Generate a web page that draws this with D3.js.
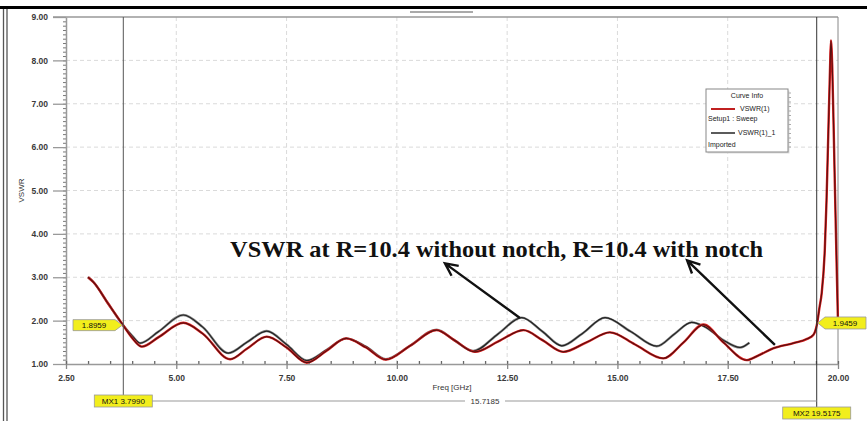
<!DOCTYPE html>
<html lang="en">
<head>
<meta charset="UTF-8">
<title>VSWR</title>
<script src="https://cdn.jsdelivr.net/npm/d3@7"></script>
<style>
    body { margin: 0; background: #fff; }
    svg { display: block; }
    .tick text { font: bold 8.5px "Liberation Sans", Arial, sans-serif; fill: #3a3a3a; }
    .lbl { font: 8px "Liberation Sans", Arial, sans-serif; fill: #333; }
</style>
</head>
<body>
<script>
    // red = "VSWR(1) Setup1 : Sweep" (with notch), black = "VSWR(1)_1 Imported" (without notch)
    const freqRed = [3.0, 3.12, 3.45, 3.79, 4.0, 4.22, 4.6, 5.16, 5.6, 6.22, 6.6, 7.05, 7.5, 7.96, 8.4, 8.85, 9.3, 9.75,
        10.3, 10.9, 11.3, 11.77, 12.3, 12.87, 13.3, 13.77, 14.3, 14.83, 15.4, 16.04, 16.5, 16.95, 17.4, 17.93,
        18.2, 18.53, 18.99, 19.3, 19.44, 19.52, 19.58, 19.63, 19.7, 19.74, 19.78, 19.82, 19.84, 19.87, 19.92, 19.97, 20.0];
    const vswrRed = [3.0, 2.89, 2.4, 1.90, 1.6, 1.40, 1.62, 1.95, 1.7, 1.11, 1.35, 1.63, 1.38, 1.03, 1.3, 1.59, 1.38, 1.10,
        1.42, 1.78, 1.55, 1.28, 1.52, 1.78, 1.55, 1.28, 1.5, 1.73, 1.45, 1.13, 1.5, 1.91, 1.5, 1.09,
        1.2, 1.36, 1.48, 1.58, 1.67, 1.90, 2.3, 2.63, 3.62, 4.77, 6.31, 7.84, 8.46, 7.84, 5.54, 3.24, 1.95];
    const freqBlack = [3.0, 3.12, 3.45, 3.79, 4.0, 4.18, 4.6, 5.16, 5.6, 6.18, 6.6, 7.05, 7.5, 7.96, 8.4, 8.85, 9.3, 9.75,
        10.3, 10.9, 11.3, 11.73, 12.3, 12.83, 13.3, 13.74, 14.2, 14.72, 15.3, 15.89, 16.3, 16.68, 17.0, 17.4, 17.78, 17.99];
    const vswrBlack = [3.0, 2.89, 2.4, 1.90, 1.65, 1.48, 1.75, 2.13, 1.85, 1.25, 1.5, 1.76, 1.45, 1.08, 1.32, 1.59, 1.4, 1.11,
        1.42, 1.79, 1.55, 1.30, 1.7, 2.07, 1.75, 1.42, 1.7, 2.07, 1.75, 1.41, 1.7, 1.96, 1.85, 1.55, 1.38, 1.49];

    const xTicks = [2.5, 5, 7.5, 10, 12.5, 15, 17.5, 20];
    const yTicks = [1, 2, 3, 4, 5, 6, 7, 8, 9];

    const mx1 = 3.7990, mx1Val = 1.8959;
    const mx2 = 19.5175, mx2Val = 1.9459;

    const W = 867, H = 426;
    const svg = d3.select("body").append("svg").attr("width", W).attr("height", H);

    const x = d3.scaleLinear().domain([2.5, 20]).range([66, 838]);
    const y = d3.scaleLinear().domain([1, 9]).range([364, 17]);

    // outer frame of the screenshot
    svg.append("line").attr("x1", 0).attr("x2", W).attr("y1", 7.5).attr("y2", 7.5)
        .attr("stroke", "#000").attr("stroke-width", 3);
    svg.append("line").attr("x1", 410).attr("x2", 473).attr("y1", 12).attr("y2", 12)
        .attr("stroke", "#aaa").attr("stroke-width", 2);
    [3.5, 7].forEach(px => {
        svg.append("line").attr("x1", px).attr("x2", px).attr("y1", 9).attr("y2", 421)
            .attr("stroke", "#555").attr("stroke-width", 1.3);
    });

    // grid
    const grid = svg.append("g").attr("stroke", "#dadada").attr("stroke-dasharray", "4,3");
    grid.selectAll(".gx").data(xTicks.slice(1, -1)).enter().append("line")
        .attr("x1", d => x(d)).attr("x2", d => x(d)).attr("y1", y(9)).attr("y2", y(1));
    grid.selectAll(".gy").data(yTicks.slice(1, -1)).enter().append("line")
        .attr("x1", x(2.5)).attr("x2", x(20)).attr("y1", d => y(d)).attr("y2", d => y(d));

    // plot frame (top and right)
    svg.append("line").attr("x1", x(2.5) - 13).attr("x2", x(20)).attr("y1", y(9)).attr("y2", y(9))
        .attr("stroke", "#999").attr("stroke-width", 1.5);
    svg.append("line").attr("x1", x(20)).attr("x2", x(20)).attr("y1", y(9)).attr("y2", y(1))
        .attr("stroke", "#888").attr("stroke-width", 1);

    // y axis
    const yMinor = d3.range(10, 91).map(d => d / 10);
    svg.append("g").attr("transform", `translate(${x(2.5)},0)`)
        .call(d3.axisLeft(y).tickValues(yMinor).tickSize(3).tickFormat(""))
        .call(g => g.select(".domain").remove())
        .call(g => g.selectAll("line").attr("stroke", "#777"));
    svg.append("g").attr("transform", `translate(${x(2.5)},0)`)
        .call(d3.axisLeft(y).tickValues(yTicks).tickSize(13).tickPadding(5).tickSizeOuter(0).tickFormat(d3.format(".2f")))
        .call(g => g.select(".domain").attr("stroke", "#999").attr("stroke-width", 1.5))
        .call(g => g.selectAll("line").attr("stroke", "#999").attr("stroke-width", 1.3));

    // x axis
    const xMinor = d3.range(5, 41).map(d => d / 2);
    svg.append("g").attr("transform", `translate(0,${y(1)})`)
        .call(d3.axisBottom(x).tickValues(xMinor).tickSize(-3).tickFormat(""))
        .call(g => g.select(".domain").remove())
        .call(g => g.selectAll("line").attr("stroke", "#666").attr("stroke-width", 1.3));
    svg.append("g").attr("transform", `translate(0,${y(1)})`)
        .call(d3.axisBottom(x).tickValues(xTicks).tickSize(5).tickPadding(6).tickSizeOuter(0).tickFormat(d3.format(".2f")))
        .call(g => g.select(".domain").attr("stroke", "#999").attr("stroke-width", 1.5))
        .call(g => g.selectAll("line").attr("stroke", "#888").attr("stroke-width", 1.3));

    svg.append("text").attr("class", "lbl").attr("x", 452).attr("y", 390).attr("text-anchor", "middle")
        .text("Freq [GHz]");
    svg.append("text").attr("class", "lbl")
        .attr("transform", `translate(24,${y(5)}) rotate(-90)`).attr("text-anchor", "middle").text("VSWR");

    // curves
    const line = d3.line().x(d => x(d[0])).y(d => y(d[1])).curve(d3.curveMonotoneX);
    const redPts = freqRed.map((f, i) => [f, vswrRed[i]]);
    const blackPts = freqBlack.map((f, i) => [f, vswrBlack[i]]);

    svg.append("path").attr("d", line(blackPts)).attr("fill", "none")
        .attr("stroke", "#888").attr("stroke-width", 2.4);
    svg.append("path").attr("d", line(blackPts)).attr("fill", "none")
        .attr("stroke", "#222").attr("stroke-width", 1.2);
    svg.append("path").attr("d", line(redPts)).attr("fill", "none")
        .attr("stroke", "#e02020").attr("stroke-width", 2.4);
    svg.append("path").attr("d", line(redPts)).attr("fill", "none")
        .attr("stroke", "#5a1010").attr("stroke-width", 1.2);

    // markers
    const mk = svg.append("g");
    mk.append("line").attr("x1", x(mx1)).attr("x2", x(mx1)).attr("y1", y(9)).attr("y2", 395)
        .attr("stroke", "#555").attr("stroke-width", 1);
    mk.append("line").attr("x1", x(mx2)).attr("x2", x(mx2)).attr("y1", y(9)).attr("y2", 407)
        .attr("stroke", "#333").attr("stroke-width", 1);
    mk.append("line").attr("x1", x(mx1)).attr("x2", x(mx2)).attr("y1", 401).attr("y2", 401)
        .attr("stroke", "#999").attr("stroke-width", 1);
    mk.append("rect").attr("x", 465).attr("y", 396).attr("width", 40).attr("height", 10).attr("fill", "#fff");
    mk.append("text").attr("class", "lbl").attr("x", 485).attr("y", 404).attr("text-anchor", "middle")
        .text((mx2 - mx1).toFixed(4));

    function tag(x0, y0, w, h, text) {
        mk.append("rect").attr("x", x0).attr("y", y0).attr("width", w).attr("height", h)
            .attr("fill", "#f2ee1c").attr("stroke", "#999").attr("stroke-width", 0.8);
        mk.append("text").attr("class", "lbl").attr("x", x0 + w / 2).attr("y", y0 + h - 3)
            .attr("text-anchor", "middle").style("fill", "#111").text(text);
    }
    tag(x(mx1) - 29, 395, 58, 12, "MX1  " + mx1.toFixed(4));
    tag(x(mx2) - 34, 407, 68, 12, "MX2  " + mx2.toFixed(4));

    // value tags (pentagons)
    const ly = y(mx1Val), ry = y(mx2Val);
    mk.append("path").attr("d", `M73,${ly - 5.5}H115L${x(mx1) - 1},${ly}L115,${ly + 5.5}H73Z`)
        .attr("fill", "#f2ee1c").attr("stroke", "#999").attr("stroke-width", 0.8);
    mk.append("text").attr("class", "lbl").attr("x", 94).attr("y", ly + 3).attr("text-anchor", "middle")
        .style("fill", "#111").text(mx1Val.toFixed(4));
    mk.append("path").attr("d", `M${x(mx2) + 1},${ry}L825,${ry - 6}H866V${ry + 6}H825Z`)
        .attr("fill", "#f2ee1c").attr("stroke", "#999").attr("stroke-width", 0.8);
    mk.append("text").attr("class", "lbl").attr("x", 845).attr("y", ry + 3).attr("text-anchor", "middle")
        .style("fill", "#111").text(mx2Val.toFixed(4));

    // legend
    const lg = svg.append("g").attr("transform", "translate(706,89)");
    lg.append("rect").attr("x", 1.5).attr("y", 1.5).attr("width", 82).attr("height", 63).attr("fill", "#ddd");
    lg.append("rect").attr("width", 82).attr("height", 63).attr("fill", "#fff").attr("stroke", "#888");
    lg.selectAll(".lt").data(d3.range(4, 62, 4.5)).enter().append("line")
        .attr("x1", 82).attr("x2", 85).attr("y1", d => d).attr("y2", d => d).attr("stroke", "#aaa");
    const legendText = (tx, ty, t, anchor) => lg.append("text").attr("class", "lbl")
        .attr("x", tx).attr("y", ty).attr("text-anchor", anchor || "start")
        .style("font-size", "7px").style("fill", "#222").text(t);
    legendText(41, 9, "Curve Info", "middle");
    lg.append("line").attr("x1", 5).attr("x2", 29).attr("y1", 20).attr("y2", 20)
        .attr("stroke", "#c02020").attr("stroke-width", 2);
    legendText(34, 22, "VSWR(1)");
    legendText(2, 32, "Setup1 : Sweep");
    lg.append("line").attr("x1", 5).attr("x2", 29).attr("y1", 44).attr("y2", 44)
        .attr("stroke", "#333").attr("stroke-width", 1.6);
    legendText(32, 46, "VSWR(1)_1");
    legendText(2, 58, "Imported");

    // annotation
    svg.append("text").attr("x", x(6.22)).attr("y", y(3.46))
        .attr("textLength", 533).attr("lengthAdjust", "spacingAndGlyphs")
        .style("font", "bold 23px 'Liberation Serif', 'Times New Roman', serif").attr("fill", "#111")
        .text("VSWR at R=10.4 without notch, R=10.4 with notch");

    const arrows = [
        { from: [12.79, 2.06], to: [11.09, 3.32] },
        { from: [18.57, 1.44], to: [16.58, 3.39] }
    ];
    arrows.forEach(a => {
        const x1 = x(a.from[0]), y1 = y(a.from[1]), x2 = x(a.to[0]), y2 = y(a.to[1]);
        const ang = Math.atan2(y1 - y2, x1 - x2), L = 14, s = 0.45;
        svg.append("path")
            .attr("d", `M${x1},${y1}L${x2},${y2}M${x2 + L * Math.cos(ang - s)},${y2 + L * Math.sin(ang - s)}L${x2},${y2}L${x2 + L * Math.cos(ang + s)},${y2 + L * Math.sin(ang + s)}`)
            .attr("fill", "none").attr("stroke", "#111").attr("stroke-width", 2.4);
    });
</script>
</body>
</html>
